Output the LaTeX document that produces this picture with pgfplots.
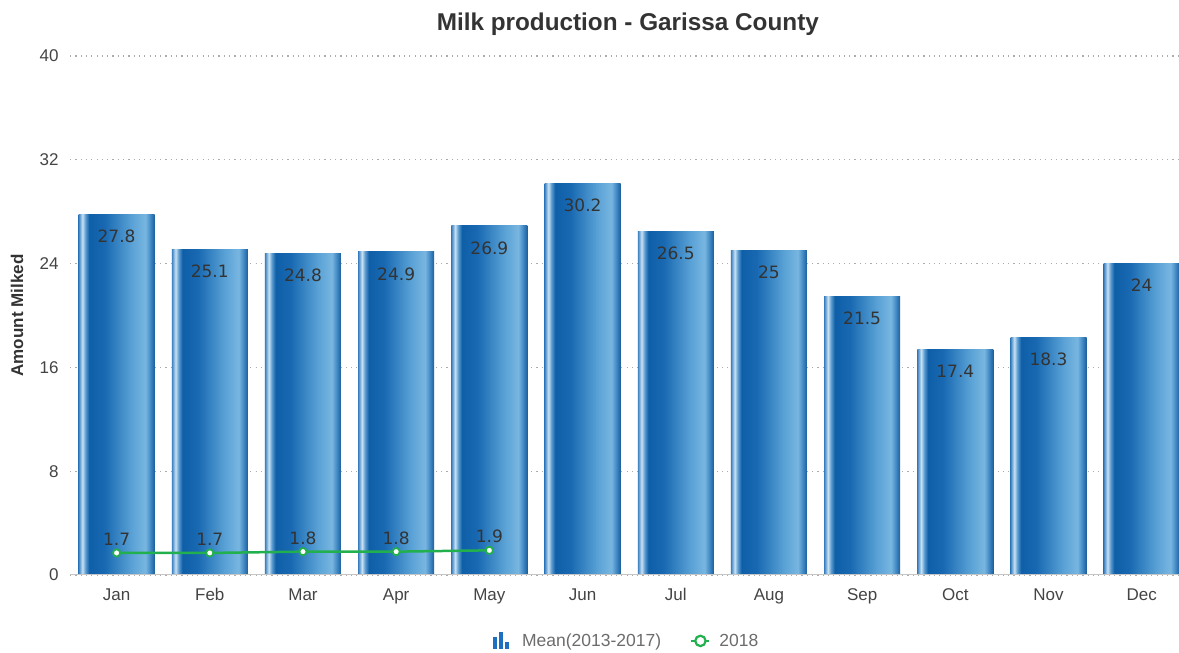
\documentclass[border=0pt]{standalone}
\usepackage{pgfplots}
\pgfplotsset{compat=1.18}
\usepackage{fontspec}
\setmainfont{Liberation Sans}
\newfontfamily\dejavu{DejaVu Sans}
\definecolor{bA}{HTML}{3B7FBF}
\definecolor{bB}{HTML}{C8E2F4}
\definecolor{bC}{HTML}{5C9BD0}
\definecolor{bD}{HTML}{0F5FA8}
\definecolor{bE}{HTML}{1869B2}
\definecolor{bF}{HTML}{5AA2D6}
\definecolor{bG}{HTML}{78B6E0}
\definecolor{bH}{HTML}{3D85C2}
\definecolor{bI}{HTML}{1C5E9C}
\definecolor{iconblue}{HTML}{1F6FC0}
\definecolor{lgreen}{HTML}{22B04E}
\definecolor{txt}{HTML}{333333}
\definecolor{tick}{HTML}{444444}
\pgfdeclarehorizontalshading{barshade}{100bp}{color(0bp)=(bA); color(25bp)=(bA); color(27.5bp)=(bB); color(29.5bp)=(bC); color(32bp)=(bD); color(42bp)=(bE); color(60bp)=(bF); color(69bp)=(bG); color(72.5bp)=(bH); color(75bp)=(bI); color(100bp)=(bI)}
\pgfplotstableread{
x y
0 27.8
1 25.1
2 24.8
3 24.9
4 26.9
5 30.2
6 26.5
7 25
8 21.5
9 17.4
10 18.3
11 24
}\meandata
\pgfplotstableread{
x y
0 1.7
1 1.7
2 1.8
3 1.8
4 1.9
}\yeardata
\begin{document}
\begin{tikzpicture}
\begin{axis}[
  at={(70pt,78pt)}, anchor=south west,
  scale only axis, width=1109pt, height=519pt,
  xmin=-0.5, xmax=11.4, ymin=0, ymax=40,
  clip=false,
  ytick={0,8,16,24,32,40},
  xtick={0,...,11},
  xticklabels={Jan,Feb,Mar,Apr,May,Jun,Jul,Aug,Sep,Oct,Nov,Dec},
  /pgf/number format/assume math mode=true,
  ymajorgrids,
  grid style={color=gray!65, line width=1.2pt, dash pattern=on 1.2pt off 4.1pt},
  axis line style={draw=none},
  major tick length=0pt,
  tick style={draw=none},
  ticklabel style={font=\fontsize{17}{19}\selectfont, color=tick},
  xticklabel style={yshift=-9.5pt, text height=12.5pt, text depth=3pt},
  yticklabel style={xshift=-8pt},
  ylabel={Amount Milked},
  ylabel style={at={(axis description cs:-0.0478,0.5)}, anchor=center, font=\bfseries\fontsize{17}{19}\selectfont, color=txt},
  title={Milk production - Garissa County},
  title style={at={(axis description cs:0.503,1)}, anchor=center, yshift=26pt, font=\bfseries\fontsize{24.3}{27}\selectfont, color=txt},
  legend style={at={(axis description cs:0.502,-0.127)}, anchor=center, draw=none, fill=none,
    legend columns=2, font=\fontsize{17.5}{19}\selectfont, text=gray!85!black,
    /tikz/every even column/.append style={column sep=27pt}},
]
\addlegendimage{legend image code/.code={
    \path[draw=none, fill=none] (0pt,-8pt) rectangle (27pt,9pt);
    \fill[iconblue, draw=none] (0pt,-8pt) rectangle (4pt,4pt);
    \fill[iconblue, draw=none] (6pt,-8pt) rectangle (10pt,9pt);
    \fill[iconblue, draw=none] (12pt,-8pt) rectangle (16pt,-1pt);}}
\addlegendentry{Mean(2013-2017)}
\pgfplotsinvokeforeach{0,...,11}{
\addplot[ybar, bar shift=0pt, bar width=76pt, draw=none, shading=barshade, forget plot,
  nodes near coords,
  every node near coord/.append style={anchor=north, yshift=-12pt, font=\dejavu\fontsize{17}{19}\selectfont, color=txt},
] table[x=x,y=y, restrict x to domain=#1:#1] {\meandata};
}
\addplot[sharp plot, color=lgreen, line width=2.5pt, mark=*, mark size=3.6pt,
  mark options={fill=white, draw=lgreen, line width=1.8pt},
  legend image code/.code={
    \draw[lgreen, line width=2.5pt] (0pt,0pt) -- (18pt,0pt);
    \draw[lgreen, fill=white, line width=2.2pt] (9pt,0pt) circle (5.2pt);
    \path[draw=none, fill=none] (0pt,0pt) -- (26pt,0pt);},
  nodes near coords,
  every node near coord/.append style={anchor=south, yshift=3pt, font=\dejavu\fontsize{17}{19}\selectfont, color=txt},
] table[x=x,y=y] {\yeardata};
\addlegendentry{2018}
\draw[color=gray!45, line width=1pt] (axis cs:-0.5,0) -- (axis cs:11.4,0);
\end{axis}
\pgfresetboundingbox
\path[use as bounding box] (0,0) rectangle (1179pt,653pt);
\end{tikzpicture}
\end{document}
